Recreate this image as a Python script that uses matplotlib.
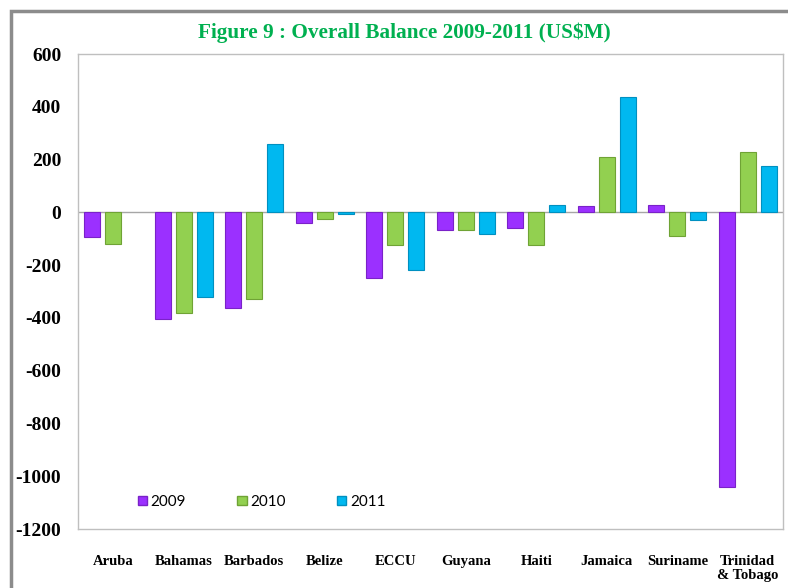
import numpy as np
import matplotlib
matplotlib.use("Agg")
import matplotlib.pyplot as plt
from matplotlib.patches import Patch, Rectangle

# data (US$M)
countries = ["Aruba", "Bahamas", "Barbados", "Belize", "ECCU", "Guyana",
             "Haiti", "Jamaica", "Suriname", "Trinidad\n& Tobago"]
y2009 = [-92, -405, -362, -40, -247, -68, -60, 25, 28, -1042]
y2010 = [-120, -380, -327, -25, -122, -68, -122, 210, -91, 228]
y2011 = [np.nan, -322, 258, -5, -220, -81, 29, 436, -28, 176]  # Aruba 2011: no data
years = ["2009", "2010", "2011"]
yticks = [600, 400, 200, 0, -200, -400, -600, -800, -1000, -1200]

colors = ["#9B30FF", "#92D050", "#00B8F0"]
edges = ["#7A22C8", "#6FA335", "#0090C0"]

fig = plt.figure(figsize=(7.88, 5.88), dpi=100)
ax = fig.add_axes([78/788, 1-529/588, (783-78)/788, (529-54)/588])

x = np.arange(len(countries))
w = 0.227
off = 0.295
for i, vals in enumerate([y2009, y2010, y2011]):
    ax.bar(x + (i-1)*off, vals, w, color=colors[i], edgecolor=edges[i],
           linewidth=0.8, zorder=3)

ax.axhline(0, color="#A6A6A6", lw=1, zorder=2)
ax.set_xlim(-0.5, len(countries)-0.5)
ax.set_ylim(-1200, 600)
ax.set_yticks(yticks)
ax.set_yticklabels([str(t) for t in yticks], fontsize=14, fontweight="bold",
                   family="Liberation Serif")
ax.set_xticks(x)
ax.set_xticklabels(countries, fontsize=10.5, fontweight="bold",
                   family="Liberation Serif", va="top", linespacing=1.1)
ax.tick_params(axis="y", length=0, pad=12)
ax.tick_params(axis="x", length=0, pad=19)
for s in ax.spines.values():
    s.set_color("#BFBFBF")
    s.set_linewidth(1)

# legend inside the plot near the bottom
handles = [Patch(facecolor=colors[i], edgecolor=edges[i]) for i in range(3)]
ax.legend(handles, years, ncol=3, frameon=False, loc="center left",
          bbox_to_anchor=(124/788, 1-502/588), bbox_transform=fig.transFigure,
          handlelength=0.6, handleheight=0.6, handletextpad=0.25,
          columnspacing=3.35, prop={"family": "Lato", "size": 11})

# title
fig.text(404/788, 1-33/588, "Figure 9 : Overall Balance 2009-2011 (US$M)",
         ha="center", va="center", color="#00B050", fontsize=15.3,
         fontweight="bold", family="Liberation Serif")

# outer frame (left and top visible)
fig.patches.append(Rectangle((10.5/788, -0.1), 1.2, 1-10.5/588+0.1,
                             transform=fig.transFigure, fill=False,
                             edgecolor="#8C8C8C", linewidth=2.5))

fig.savefig("out.png", dpi=100)
